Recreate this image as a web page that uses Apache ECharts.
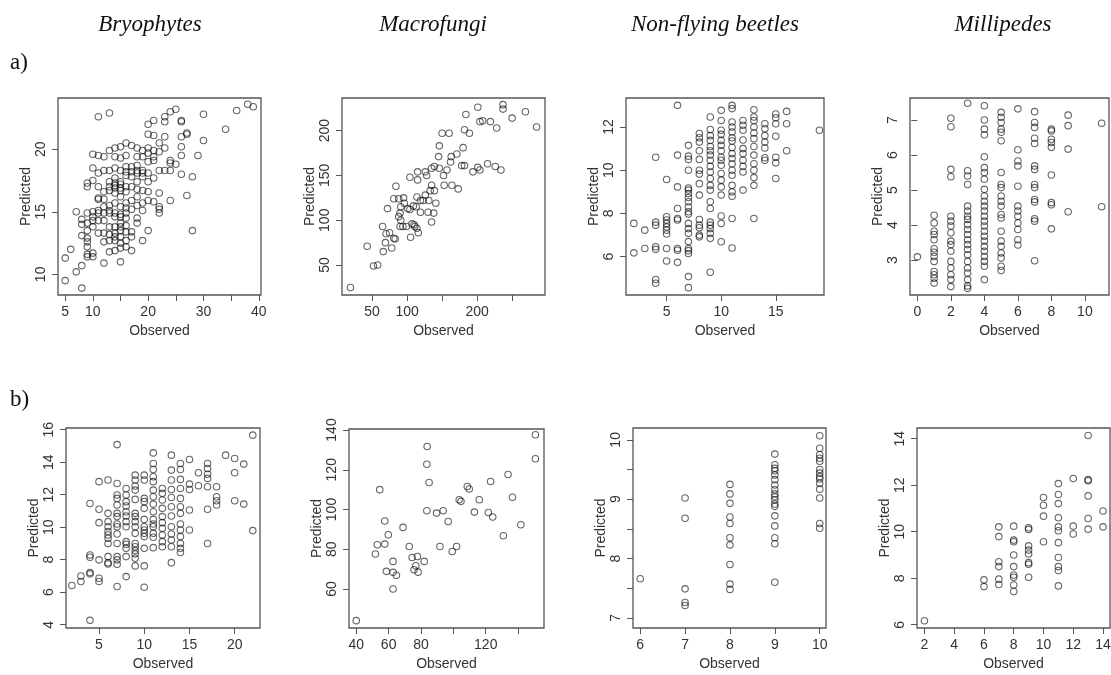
<!DOCTYPE html>
<html>
<head>
<meta charset="utf-8">
<script src="https://cdn.jsdelivr.net/npm/echarts@6/dist/echarts.min.js"></script>
<style>
html, body { margin: 0; padding: 0; background: #fff; }
#container { width: 1111px; height: 675px; }
</style>
</head>
<body>
<div id="container"></div>
<script>
var dom = document.getElementById("container");
var myChart = echarts.init(dom);

var taxa = ['Bryophytes', 'Macrofungi', 'Non-flying beetles', 'Millipedes'];
var rowLabels = ['a)', 'b)'];

// a) row, [observed, predicted]
var bryoA = [[11,22.6],[13,22.9],[25,23.2],[24,23.0],[23,22.6],[23,22.2],[21,22.3],[20,22.0],[21,21.1],[20,21.2],[23,21.0],[26,22.3],[26,22.2],[27,21.3],[27,21.2],[26,21.0],[30,22.8],[34,21.6],[36,23.1],[38,23.6],[39,23.4],[30,20.7],[29,19.5],[26,20.2],[26,19.5],[24,19.1],[24,18.9],[25,18.8],[26,18.0],[28,17.8],[27,16.3],[24,15.9],[28,13.5],[20,13.5],[22,16.5],[22,15.4],[22,14.9],[22,15.2],[21,15.8],[21,17.7],[21,19.1],[21,19.4],[21,19.9],[22,19.8],[22,20.5],[23,20.1],[23,18.3],[22,18.3],[24,18.3],[20,20.1],[20,19.7],[20,19.0],[20,18.1],[20,17.4],[20,16.6],[20,15.9],[19,19.9],[19,19.4],[19,18.1],[19,17.8],[19,16.7],[19,15.7],[19,15.1],[19,12.7],[18,20.1],[18,19.4],[18,18.7],[18,18.1],[18,17.4],[18,16.2],[18,15.5],[18,14.5],[18,14.1],[17,20.3],[17,18.6],[17,17.8],[17,17.0],[17,15.9],[17,13.4],[17,13.0],[17,11.9],[16,20.5],[16,19.5],[16,18.6],[16,17.9],[16,17.0],[16,16.6],[16,15.7],[16,14.9],[16,14.5],[16,13.9],[16,13.4],[16,12.7],[16,12.2],[15,20.2],[15,19.3],[15,18.3],[15,17.4],[15,16.7],[15,16.2],[15,15.4],[15,14.6],[15,14.1],[15,13.5],[15,13.0],[15,12.5],[15,12.1],[15,11.0],[14,20.1],[14,19.4],[14,18.5],[14,17.7],[14,17.1],[14,16.5],[14,15.7],[14,14.9],[14,13.8],[14,13.3],[14,12.7],[14,11.9],[13,19.9],[13,18.3],[13,17.4],[13,16.7],[13,15.5],[13,14.9],[13,13.8],[13,12.7],[13,11.8],[12,19.4],[12,18.3],[12,16.6],[12,15.4],[12,14.3],[12,12.6],[12,10.9],[11,19.5],[11,18.1],[11,17.0],[11,16.1],[11,15.1],[11,14.3],[11,13.3],[10,19.6],[10,18.5],[10,17.5],[10,15.0],[10,14.3],[10,13.8],[10,11.7],[10,11.4],[9,17.3],[9,17.0],[9,14.9],[9,14.1],[9,13.5],[9,12.9],[9,12.6],[9,12.2],[9,11.4],[9,11.6],[8,14.4],[8,14.0],[8,13.1],[8,10.7],[8,8.9],[7,15.0],[7,10.2],[6,12.0],[5,11.3],[5,9.5],[14,17.3],[15,17.2],[15,16.9],[13,17.0],[14,16.9],[12,16.0],[11,16.0],[16,18.2],[17,18.2],[18,18.3],[19,18.3],[14,14.6],[15,14.8],[13,15.1],[12,14.9],[11,14.9],[10,14.6],[16,15.3],[17,15.2],[18,16.8],[15,13.8],[14,13.0],[13,13.2],[12,13.3]];
var fungiA = [[19,25],[43,71],[52,49],[58,50],[65,93],[66,65],[72,113],[69,75],[70,85],[75,86],[78,69],[81,80],[83,79],[84,138],[81,124],[88,124],[95,125],[91,115],[90,108],[88,104],[90,93],[94,93],[91,100],[96,119],[99,93],[101,113],[104,112],[105,81],[107,96],[110,95],[111,93],[114,91],[116,86],[104,148],[115,145],[115,154],[114,126],[109,116],[113,115],[119,122],[119,109],[123,122],[126,128],[126,154],[128,150],[131,122],[133,133],[135,139],[139,133],[130,109],[135,98],[138,108],[141,119],[135,158],[139,160],[146,158],[145,171],[146,183],[150,197],[160,197],[152,150],[157,156],[153,139],[164,139],[173,135],[162,165],[163,171],[171,174],[180,181],[178,161],[182,161],[182,201],[184,218],[189,197],[194,154],[201,159],[204,156],[201,226],[204,210],[208,211],[219,210],[215,163],[226,160],[228,203],[234,156],[237,224],[237,229],[250,214],[269,221],[285,204]];
var beetleA = [[2,7.54],[2,6.18],[3,7.23],[3,6.38],[4,10.6],[4,7.6],[4,7.46],[4,6.46],[4,6.34],[4,4.95],[4,4.77],[5,9.57],[5,7.85],[5,7.7],[5,7.54],[5,7.38],[5,7.23],[5,7.05],[5,6.38],[5,5.8],[6,13.0],[6,10.7],[6,9.23],[6,8.23],[6,7.77],[6,7.7],[6,6.38],[6,6.3],[6,5.74],[7,11.15],[7,10.65],[7,10.5],[7,10.0],[7,9.18],[7,9.08],[7,8.92],[7,8.74],[7,8.54],[7,8.3],[7,8.08],[7,7.97],[7,7.54],[7,7.3],[7,7.08],[7,6.7],[7,6.38],[7,6.28],[7,6.15],[7,5.08],[7,4.57],[8,11.7],[8,11.5],[8,11.3],[8,10.9],[8,10.5],[8,10.0],[8,9.82],[8,9.38],[8,8.85],[8,7.72],[8,7.46],[8,7.34],[8,7.0],[8,6.92],[9,12.46],[9,11.88],[9,11.6],[9,11.38],[9,11.1],[9,10.9],[9,10.7],[9,10.46],[9,10.18],[9,9.92],[9,9.62],[9,9.3],[9,9.08],[9,8.54],[9,8.23],[9,7.6],[9,7.46],[9,7.3],[9,7.08],[9,6.85],[9,5.28],[10,12.77],[10,12.3],[10,11.85],[10,11.66],[10,11.38],[10,11.15],[10,10.9],[10,10.6],[10,10.46],[10,10.23],[10,9.85],[10,9.54],[10,9.23],[10,8.85],[10,7.88],[10,7.54],[10,6.69],[11,13.0],[11,12.85],[11,12.23],[11,12.0],[11,11.77],[11,11.5],[11,11.35],[11,11.05],[11,10.77],[11,10.54],[11,10.3],[11,10.0],[11,9.77],[11,9.3],[11,9.0],[11,8.8],[11,7.77],[11,6.4],[12,12.3],[12,12.08],[12,11.85],[12,11.4],[12,11.0],[12,10.77],[12,10.46],[12,10.18],[12,9.92],[12,9.08],[13,12.8],[13,12.46],[13,12.3],[13,12.0],[13,11.72],[13,11.46],[13,11.1],[13,10.7],[13,10.3],[13,10.0],[13,9.66],[13,9.3],[13,7.77],[14,12.15],[14,11.92],[14,11.6],[14,11.3],[14,11.03],[14,10.58],[14,10.46],[15,12.6],[15,12.43],[15,12.15],[15,11.57],[15,10.6],[15,10.34],[15,9.62],[16,12.72],[16,12.15],[16,10.9],[19,11.85]];
var milliA = [[0,3.09],[1,4.28],[1,4.06],[1,3.82],[1,3.73],[1,3.58],[1,3.32],[1,3.22],[1,3.1],[1,2.96],[1,2.67],[1,2.58],[1,2.48],[1,2.34],[2,7.05],[2,6.81],[2,5.59],[2,5.38],[2,4.25],[2,4.11],[2,3.97],[2,3.78],[2,3.54],[2,3.44],[2,3.25],[2,2.96],[2,2.77],[2,2.58],[2,2.44],[2,2.24],[3,7.48],[3,5.55],[3,5.4],[3,5.16],[3,4.54],[3,4.4],[3,4.25],[3,4.16],[3,4.01],[3,3.87],[3,3.73],[3,3.58],[3,3.44],[3,3.3],[3,3.15],[3,2.96],[3,2.77],[3,2.63],[3,2.44],[3,2.26],[3,2.19],[4,7.41],[4,7.0],[4,6.74],[4,6.58],[4,5.95],[4,5.64],[4,5.5],[4,5.31],[4,5.02],[4,4.83],[4,4.68],[4,4.54],[4,4.4],[4,4.25],[4,4.11],[4,3.97],[4,3.82],[4,3.68],[4,3.54],[4,3.39],[4,3.25],[4,3.1],[4,2.96],[4,2.82],[4,2.44],[5,7.22],[5,7.08],[5,6.93],[5,6.74],[5,6.65],[5,6.41],[5,5.5],[5,5.16],[5,5.07],[5,4.83],[5,4.68],[5,4.54],[5,4.3],[5,4.2],[5,3.82],[5,3.54],[5,3.39],[5,3.2],[5,3.06],[5,2.82],[5,2.7],[6,7.32],[6,6.15],[6,5.83],[6,5.69],[6,5.11],[6,4.54],[6,4.4],[6,4.25],[6,4.06],[6,3.87],[6,3.58],[6,3.43],[7,7.24],[7,6.93],[7,6.79],[7,6.48],[7,6.33],[7,5.69],[7,5.59],[7,5.16],[7,5.07],[7,4.73],[7,4.66],[7,4.18],[7,4.11],[7,2.98],[8,6.74],[8,6.69],[8,6.45],[8,6.36],[8,6.22],[8,5.43],[8,4.64],[8,4.58],[8,3.89],[9,7.14],[9,6.84],[9,6.17],[9,4.38],[11,6.91],[11,4.52]];

// b) row
var bryoB = [[2,6.41],[3,7.0],[3,6.66],[4,8.29],[4,8.15],[4,7.21],[4,7.13],[4,11.46],[4,4.27],[5,12.8],[5,11.1],[5,10.28],[5,7.99],[5,6.86],[5,6.66],[6,12.9],[6,10.85],[6,10.34],[6,10.03],[6,9.73],[6,9.52],[6,9.32],[6,9.0],[6,8.19],[6,7.82],[6,7.74],[7,15.08],[7,12.69],[7,11.98],[7,11.77],[7,11.36],[7,10.85],[7,10.65],[7,10.2],[7,10.03],[7,9.58],[7,9.0],[7,8.19],[7,7.99],[7,7.72],[7,6.35],[8,12.38],[8,11.98],[8,11.57],[8,11.3],[8,10.95],[8,10.69],[8,10.34],[8,10.03],[8,9.11],[8,8.95],[8,8.7],[8,8.19],[8,6.96],[9,13.2],[9,12.9],[9,12.53],[9,12.28],[9,11.71],[9,10.85],[9,10.65],[9,10.34],[9,10.03],[9,9.62],[9,9.0],[9,8.8],[9,8.56],[9,8.36],[9,8.09],[9,7.62],[10,13.2],[10,12.9],[10,11.77],[10,11.57],[10,11.16],[10,10.48],[10,10.03],[10,9.83],[10,9.62],[10,9.42],[10,8.7],[10,7.62],[10,6.31],[11,14.57],[11,13.92],[11,13.55],[11,13.1],[11,12.8],[11,12.28],[11,11.87],[11,11.42],[11,10.95],[11,10.48],[11,10.2],[11,10.03],[11,9.62],[11,9.38],[11,8.74],[12,12.38],[12,12.08],[12,11.67],[12,11.16],[12,10.65],[12,10.28],[12,9.93],[12,9.52],[12,9.11],[12,8.8],[13,14.43],[13,13.51],[13,12.9],[13,12.32],[13,11.83],[13,11.26],[13,10.69],[13,10.03],[13,9.58],[13,9.21],[13,8.8],[13,7.82],[14,13.92],[14,13.55],[14,12.94],[14,12.38],[14,11.77],[14,11.26],[14,10.85],[14,10.2],[14,9.83],[14,9.42],[14,9.0],[14,8.7],[14,8.44],[15,14.16],[15,12.65],[15,12.32],[15,11.06],[15,9.83],[16,13.35],[16,12.55],[17,13.92],[17,13.61],[17,13.26],[17,13.0],[17,12.49],[17,11.1],[17,9.0],[18,12.49],[18,11.87],[18,11.63],[18,11.36],[19,14.43],[20,14.22],[20,13.35],[20,11.63],[21,13.88],[21,11.42],[22,15.66],[22,9.79]];
var fungiB = [[40,44.1],[51.8,77.6],[53,82.3],[54.5,110],[57.6,94.2],[57.6,82.6],[58.6,68.9],[59.8,87.3],[62.7,73.9],[62.7,68.4],[62.7,60],[64.8,66.9],[68.9,91],[72.7,81.4],[74.5,75.9],[75.7,69.7],[76.8,71.7],[77.8,76.4],[78.2,68.5],[82,73.9],[83.8,131.7],[83.6,122.8],[85,113.6],[83.6,99.4],[89.6,98.2],[91.7,81.4],[93.7,99.4],[96.8,94],[99.3,78.9],[102,81.4],[103.6,104.9],[104.7,104.1],[108.6,111.6],[109.8,110.3],[113,98.7],[116,104.9],[121.6,98.5],[123,114.1],[124.3,96.2],[130.9,86.8],[133.8,117.6],[136.5,106.2],[141.7,92.3],[150.7,137.6],[150.7,125.5]];
var beetleB = [[6,7.66],[7,9.02],[7,8.68],[7,7.49],[7,7.26],[7,7.21],[8,9.25],[8,9.09],[8,8.93],[8,8.70],[8,8.59],[8,8.35],[8,8.23],[8,7.90],[8,7.57],[8,7.48],[9,9.76],[9,9.58],[9,9.52],[9,9.48],[9,9.41],[9,9.33],[9,9.24],[9,9.16],[9,9.09],[9,9.04],[9,8.99],[9,8.92],[9,8.88],[9,8.72],[9,8.55],[9,8.35],[9,8.25],[9,7.6],[10,10.07],[10,9.86],[10,9.75],[10,9.69],[10,9.64],[10,9.5],[10,9.44],[10,9.38],[10,9.34],[10,9.27],[10,9.17],[10,9.02],[10,8.59],[10,8.51]];
var milliB = [[2,6.17],[6,7.93],[6,7.64],[7,10.21],[7,9.79],[7,8.71],[7,8.5],[7,7.96],[7,7.73],[8,10.24],[8,9.64],[8,9.57],[8,9.0],[8,8.5],[8,8.14],[8,8.04],[8,7.71],[8,7.43],[9,10.17],[9,10.1],[9,9.39],[9,9.21],[9,9.04],[9,8.67],[9,8.6],[9,8.04],[10,11.47],[10,11.14],[10,10.67],[10,9.57],[11,12.07],[11,11.6],[11,11.21],[11,10.6],[11,10.21],[11,10.04],[11,9.53],[11,8.89],[11,8.5],[11,8.33],[11,7.67],[12,12.29],[12,10.24],[12,9.9],[13,14.14],[13,12.24],[13,12.19],[13,11.54],[13,10.57],[13,10.11],[14,10.89],[14,10.21]];

// tick positions and labelled ticks
var bryoAXTicks = [5, 10, 15, 20, 25, 30, 35, 40], bryoAXLabels = [5, 10, 20, 30, 40], bryoAYTicks = [10, 15, 20];
var fungiAXTicks = [50, 100, 150, 200, 250], fungiAXLabels = [50, 100, 200], fungiAYTicks = [50, 100, 150, 200];
var beetleAXTicks = [5, 10, 15], beetleAYTicks = [6, 8, 10, 12];
var milliAXTicks = [0, 2, 4, 6, 8, 10], milliAYTicks = [3, 4, 5, 6, 7];
var bryoBXTicks = [5, 10, 15, 20], bryoBYTicks = [4, 6, 8, 10, 12, 14, 16];
var fungiBXTicks = [40, 60, 80, 100, 120, 140], fungiBXLabels = [40, 60, 80, 120], fungiBYTicks = [60, 80, 100, 120, 140];
var beetleBXTicks = [6, 7, 8, 9, 10], beetleBYTicks = [7, 7.5, 8, 8.5, 9, 9.5, 10], beetleBYLabels = [7, 8, 9, 10];
var milliBXTicks = [2, 4, 6, 8, 10, 12, 14], milliBYTicks = [6, 8, 10, 12, 14];

var panels = [
	{data: bryoA, box: [58, 98, 203, 197], xr: [3.7, 40.4], yr: [8.35, 24.1], xt: bryoAXTicks, xl: bryoAXLabels, yt: bryoAYTicks, yl: bryoAYTicks},
	{data: fungiA, box: [342, 98, 203, 197], xr: [7, 297], yr: [16.6, 236.4], xt: fungiAXTicks, xl: fungiAXLabels, yt: fungiAYTicks, yl: fungiAYTicks},
	{data: beetleA, box: [626, 98, 198, 197], xr: [1.28, 19.42], yr: [4.23, 13.34], xt: beetleAXTicks, xl: beetleAXTicks, yt: beetleAYTicks, yl: beetleAYTicks},
	{data: milliA, box: [910, 98, 199, 197], xr: [-0.44, 11.44], yr: [2.0, 7.63], xt: milliAXTicks, xl: milliAXTicks, yt: milliAYTicks, yl: milliAYTicks},
	{data: bryoB, box: [66, 428, 194, 200], xr: [1.35, 22.8], yr: [3.8, 16.1], xt: bryoBXTicks, xl: bryoBXTicks, yt: bryoBYTicks, yl: bryoBYTicks},
	{data: fungiB, box: [349, 429, 195, 199], xr: [35.5, 156], yr: [40.4, 140.5], xt: fungiBXTicks, xl: fungiBXLabels, yt: fungiBYTicks, yl: fungiBYTicks},
	{data: beetleB, box: [633, 428, 193, 200], xr: [5.84, 10.14], yr: [6.83, 10.2], xt: beetleBXTicks, xl: beetleBXTicks, yt: beetleBYTicks, yl: beetleBYLabels},
	{data: milliB, box: [917, 428, 193, 200], xr: [1.5, 14.47], yr: [5.86, 14.46], xt: milliBXTicks, xl: milliBXTicks, yt: milliBYTicks, yl: milliBYTicks}
];

var axisFont = 'Liberation Sans';
var grids = [], xAxes = [], yAxes = [], series = [];

panels.forEach(function (p, i) {
	grids.push({
		left: p.box[0], top: p.box[1], width: p.box[2], height: p.box[3],
		show: true, borderColor: '#555', borderWidth: 1.3,
		outerBoundsMode: 'none', containLabel: false
	});
	xAxes.push({
		type: 'value', gridIndex: i, min: p.xr[0], max: p.xr[1],
		axisLine: {show: false},
		splitLine: {show: false},
		axisTick: {show: true, inside: false, length: 6, customValues: p.xt, lineStyle: {color: '#555'}},
		axisLabel: {customValues: p.xl, margin: 10, fontSize: 14, color: '#333', fontFamily: axisFont},
		name: 'Observed', nameLocation: 'middle', nameGap: 29,
		nameTextStyle: {fontSize: 14, color: '#333', fontFamily: axisFont}
	});
	yAxes.push({
		type: 'value', gridIndex: i, min: p.yr[0], max: p.yr[1],
		axisLine: {show: false},
		splitLine: {show: false},
		axisTick: {show: true, inside: false, length: 6, customValues: p.yt, lineStyle: {color: '#555'}},
		axisLabel: {customValues: p.yl, rotate: 90, margin: 10, fontSize: 14, color: '#333', fontFamily: axisFont},
		name: 'Predicted', nameLocation: 'middle', nameGap: 24,
		nameTextStyle: {fontSize: 14, color: '#333', fontFamily: axisFont}
	});
	series.push({
		type: 'scatter', xAxisIndex: i, yAxisIndex: i,
		data: p.data,
		symbol: 'circle', symbolSize: 6.5,
		silent: true,
		itemStyle: {color: 'transparent', borderColor: 'rgba(10,10,10,0.78)', borderWidth: 1.1}
	});
});

var titleX = [150, 433, 715, 1003];
var texts = [];
taxa.forEach(function (name, i) {
	texts.push({
		type: 'text', x: titleX[i], y: 25,
		style: {text: name, font: 'italic 23px "Liberation Serif"', fill: '#111', align: 'center', verticalAlign: 'middle', textAlign: 'center', textVerticalAlign: 'middle'}
	});
});
var rowY = [63, 400];
rowLabels.forEach(function (t, i) {
	texts.push({
		type: 'text', x: 10, y: rowY[i],
		style: {text: t, font: '23px "Liberation Serif"', fill: '#111', align: 'left', verticalAlign: 'middle', textAlign: 'left', textVerticalAlign: 'middle'}
	});
});

var option = {
	animation: false,
	backgroundColor: '#fff',
	grid: grids,
	xAxis: xAxes,
	yAxis: yAxes,
	series: series,
	graphic: texts
};
myChart.setOption(option);
</script>
</body>
</html>
